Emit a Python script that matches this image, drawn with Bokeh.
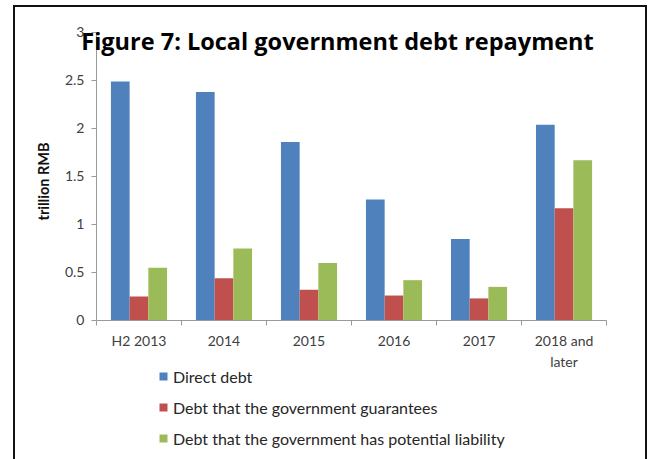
import math
from bokeh.plotting import figure
from bokeh.models import (Range1d, LinearAxis, FixedTicker,
                          NumeralTickFormatter, Label, Legend, LegendItem, ColumnDataSource,
                          CustomJSTickFormatter)
from bokeh.transform import dodge
from bokeh.embed import file_html
from bokeh.resources import INLINE

# ---- data ----
categories = ["H2 2013", "2014", "2015", "2016", "2017", "2018 and later"]
direct_debt = [2.49, 2.38, 1.86, 1.26, 0.85, 2.04]
guaranteed_debt = [0.25, 0.44, 0.32, 0.26, 0.23, 1.17]
potential_debt = [0.55, 0.75, 0.60, 0.42, 0.35, 1.67]
series_names = ["Direct debt",
                "Debt that the government guarantees",
                "Debt that the government has potential liability"]
y_ticks = [0, 0.5, 1, 1.5, 2, 2.5, 3]
title_text = "Figure 7: Local government debt repayment"
y_label = "trillion RMB"

# ---- style / layout ----
COLORS = ["#4F81BD", "#C0504D", "#9BBB59"]
AXIS_GRAY = "#9a9a9a"
LABEL_FONT = "Lato"
BAR_W = 0.22
# view extents (blank room around the axes for labels, title and legend)
X_VIEW = (-1.129, 6.529)
Y_VIEW = (-1.448, 3.333)

n = len(categories)
centers = [i + 0.5 for i in range(n)]
source = ColumnDataSource(dict(x=centers, cat=categories, direct=direct_debt,
                               guaranteed=guaranteed_debt, potential=potential_debt))

p = figure(width=651, height=459,
           x_range=Range1d(*X_VIEW),
           y_range=Range1d(*Y_VIEW),
           output_backend="svg", toolbar_location=None,
           min_border=0, min_border_left=0, min_border_right=0,
           min_border_top=0, min_border_bottom=0)
p.grid.visible = False
p.outline_line_color = None
p.border_fill_color = None
p.background_fill_color = None
p.styles = {
    "background": ("linear-gradient(#111,#111) 13px 5px/2px 470px no-repeat, "
                   "linear-gradient(#111,#111) 13px 5px/634px 2px no-repeat, "
                   "linear-gradient(#111,#111) 645px 5px/2px 470px no-repeat")
}

cols = ["direct", "guaranteed", "potential"]
offsets = [-BAR_W, 0.0, BAR_W]
renderers = []
for col, off, color in zip(cols, offsets, COLORS):
    r = p.vbar(x=dodge("x", off), top=col, width=BAR_W,
               source=source, fill_color=color, line_color=None)
    renderers.append(r)

# y axis at x = 0
ya = p.yaxis[0]
ya.fixed_location = 0
ya.ticker = FixedTicker(ticks=y_ticks)
ya.bounds = (y_ticks[0], y_ticks[-1])
ya.formatter = NumeralTickFormatter(format="0.[0]")
ya.major_tick_in = 0
ya.major_tick_out = 5
ya.minor_tick_line_color = None
ya.axis_line_color = AXIS_GRAY
ya.major_tick_line_color = AXIS_GRAY
ya.major_label_text_font = LABEL_FONT
ya.major_label_text_font_size = "14px"
ya.major_label_text_color = "#404040"
ya.major_label_standoff = 7

# x axis at y = 0: boundary ticks (main axis) + category labels (second axis)
xa = p.xaxis[0]
xa.fixed_location = 0
xa.bounds = (0, n)
xa.ticker = FixedTicker(ticks=list(range(n + 1)))
xa.formatter = CustomJSTickFormatter(code="return ''")
xa.major_tick_in = 0
xa.major_tick_out = 5
xa.minor_tick_line_color = None
xa.axis_line_color = AXIS_GRAY
xa.major_tick_line_color = AXIS_GRAY
xa.major_label_text_font_size = "1px"
xa.major_label_standoff = 0

label_overrides = {c: (cat if cat != "2018 and later" else "2018 and\nlater")
                   for c, cat in zip(centers, categories)}
cat_axis = LinearAxis(ticker=FixedTicker(ticks=centers), fixed_location=0,
                      axis_line_color=None, major_tick_line_color=None,
                      minor_tick_line_color=None,
                      major_tick_in=0, major_tick_out=0,
                      major_label_standoff=12,
                      major_label_overrides=label_overrides,
                      major_label_text_font=LABEL_FONT,
                      major_label_text_font_size="14px",
                      major_label_text_color="#404040")
p.add_layout(cat_axis, "below")

# y axis title
ylab = Label(x=43, y=278, x_units="screen", y_units="screen", text=y_label,
             angle=math.pi / 2, text_align="center", text_baseline="middle",
             text_font=LABEL_FONT, text_font_size="14.5px", text_font_style="bold",
             text_color="#111111")
p.add_layout(ylab)

# legend
legend = Legend(items=[LegendItem(label=s, renderers=[r]) for s, r in zip(series_names, renderers)],
                location=(158, 11), orientation="vertical",
                glyph_width=10, glyph_height=10, label_standoff=5,
                spacing=11, label_height=20, padding=0, margin=0,
                border_line_color=None, background_fill_alpha=0,
                label_text_font=LABEL_FONT, label_text_font_size="16px",
                label_text_color="#262626")
p.add_layout(legend)

# title overlapping plot area
title = Label(x=337, y=419, x_units="screen", y_units="screen", text=title_text,
              text_align="center", text_baseline="alphabetic",
              text_font="Open Sans", text_font_size="23.5px", text_font_style="bold",
              text_color="#000000")
p.add_layout(title)

open("out.html", "w").write(file_html(p, INLINE))
